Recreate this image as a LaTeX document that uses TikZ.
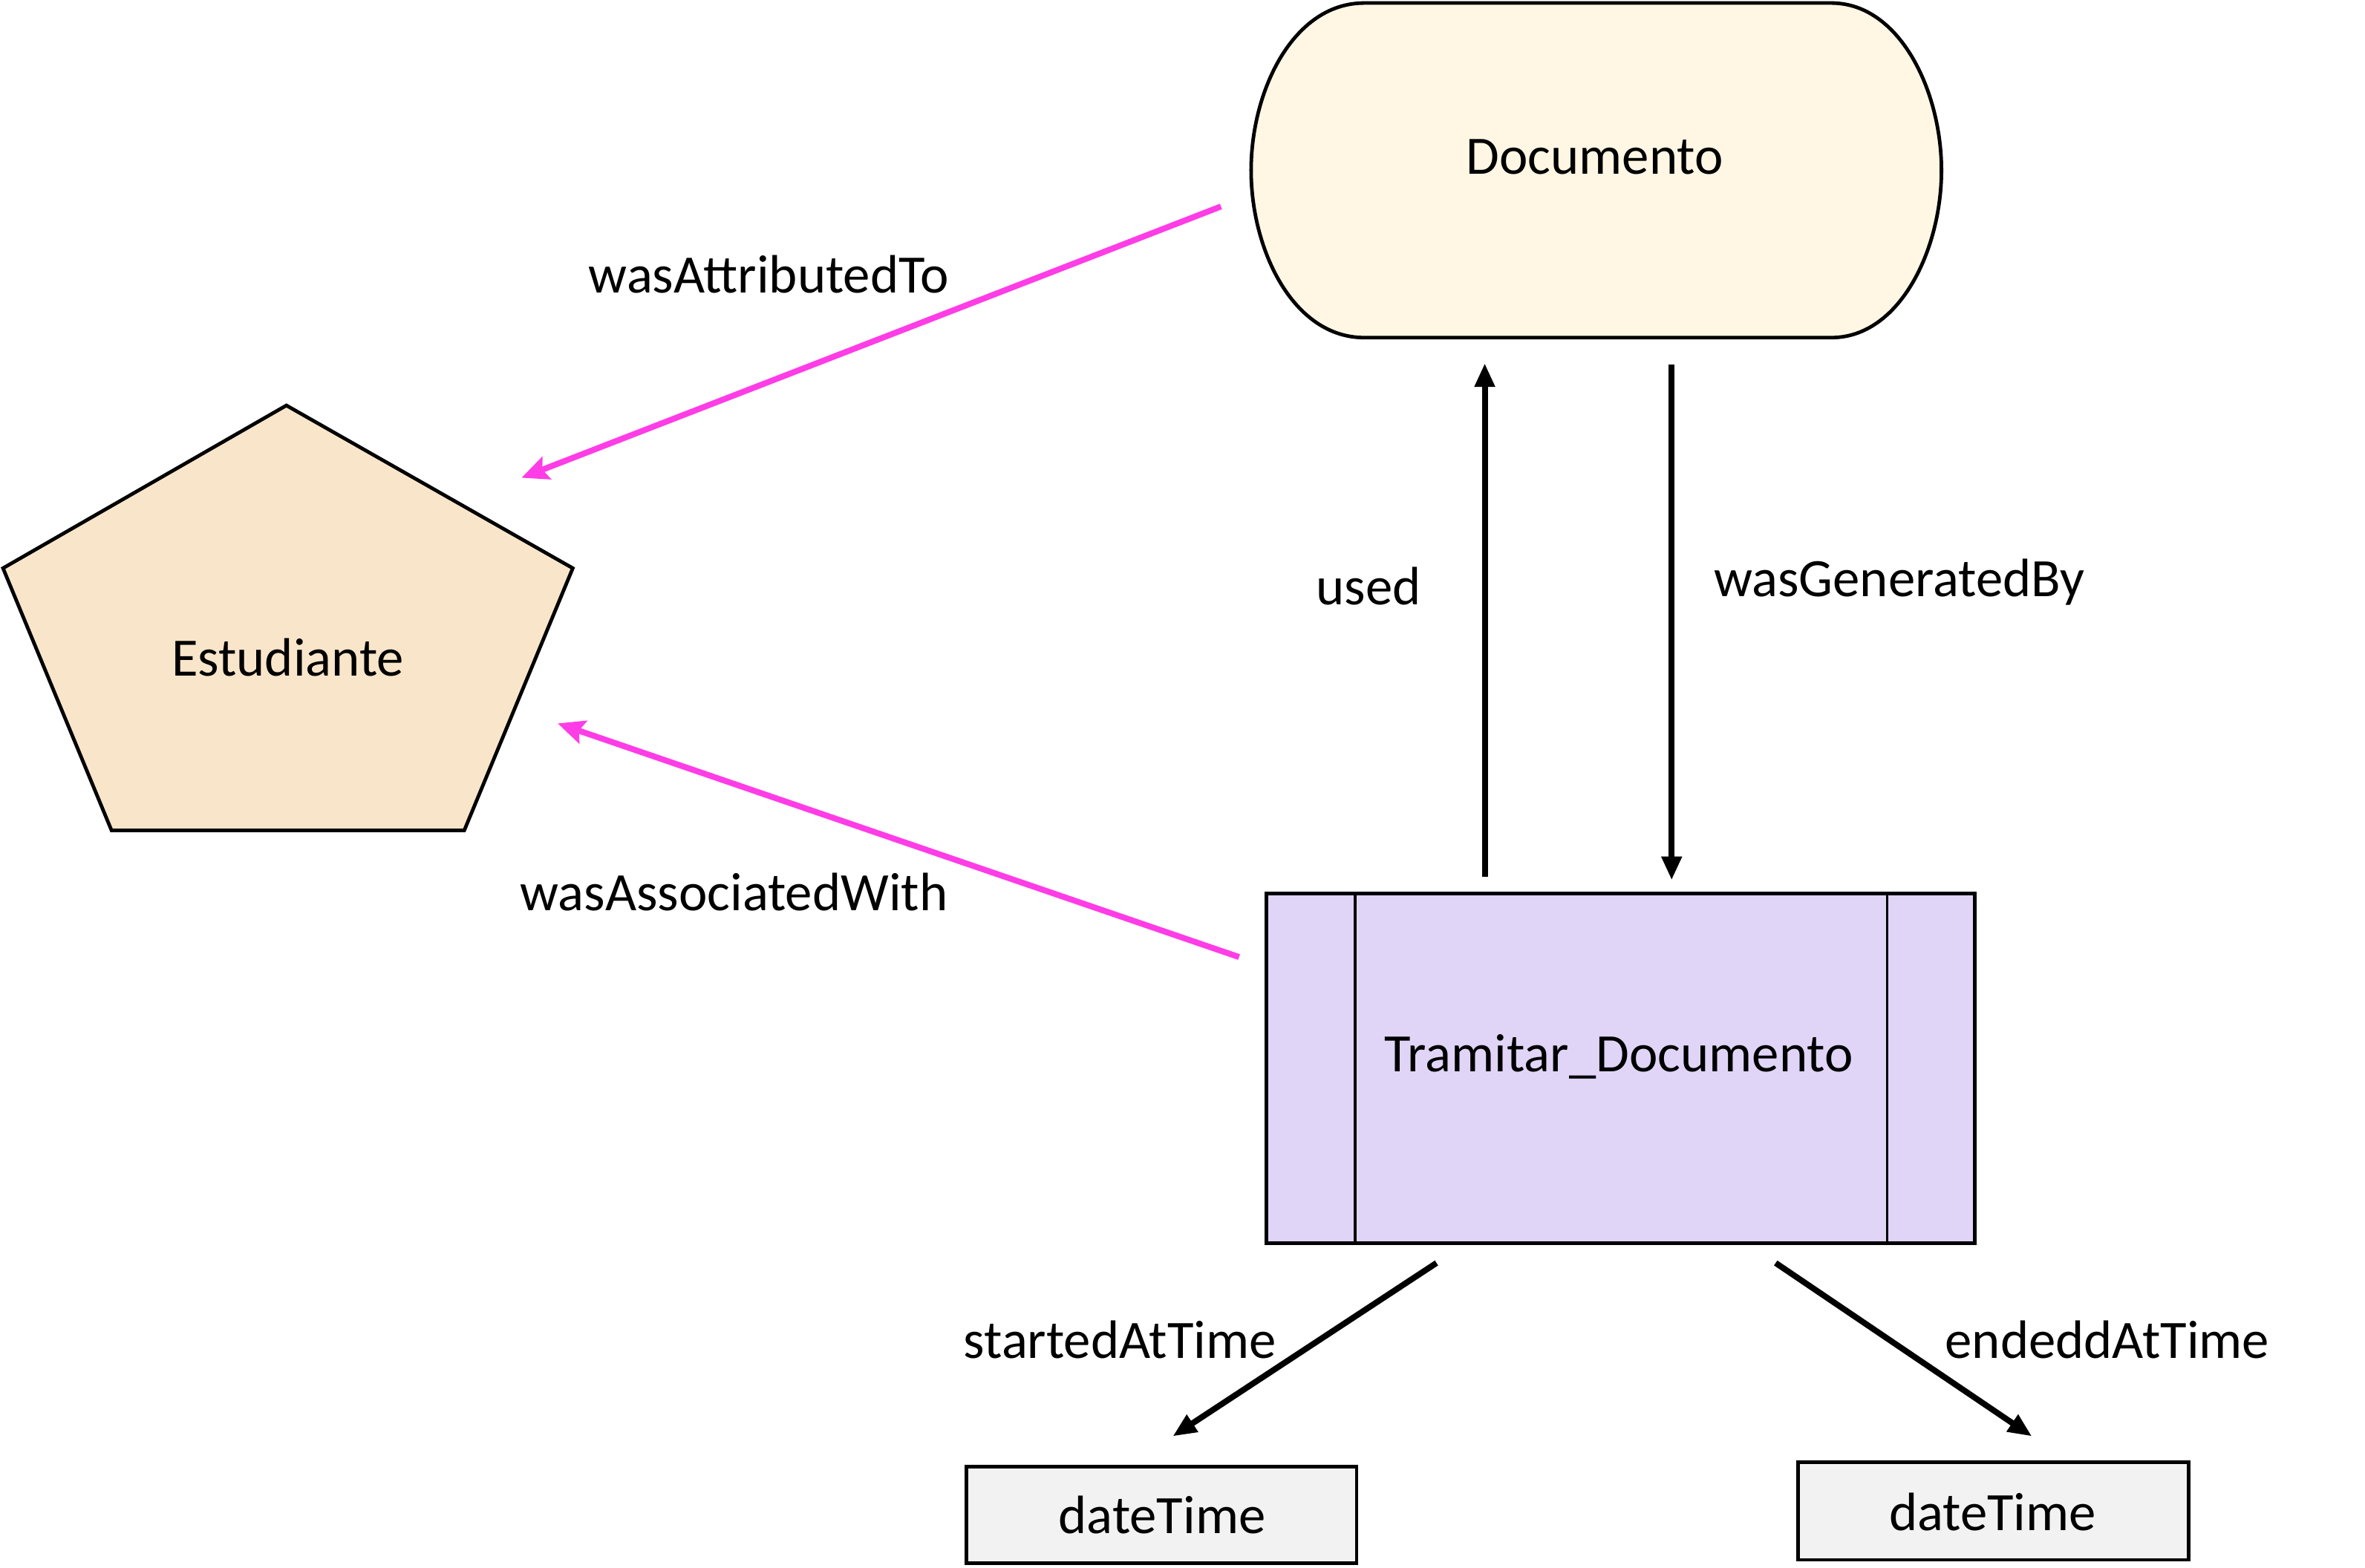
\documentclass[tikz,border=0pt]{standalone}
\usepackage{fontspec}
\setmainfont{Carlito}
\usetikzlibrary{arrows.meta}
\definecolor{docfill}{HTML}{FFF7E4}
\definecolor{estfill}{HTML}{F9E6CA}
\definecolor{tramfill}{HTML}{E0D5F7}
\definecolor{dtfill}{HTML}{F2F2F2}
\definecolor{pinkline}{HTML}{FF3DE6}
\tikzset{
  shapeline/.style={draw=black, line width=1.2pt},
  lbl/.style={font=\fontsize{18.2pt}{22pt}\selectfont, inner sep=0pt},
  blackarrow/.style={line width=2pt, -{Stealth[length=8pt, width=6.5pt, inset=0pt]}},
  pinkarrow/.style={draw=pinkline, line width=2pt, -{Stealth[length=9pt, width=8pt, inset=1.5pt]}},
}
\begin{document}
\begin{tikzpicture}[x=0.5075pt, y=-0.5075pt]
\useasboundingbox (0,0) rectangle (1569,1040);
% Documento
\path[shapeline, fill=docfill] (905,2) -- (1215,2)
  .. controls (1260,2) and (1288,60) .. (1288,113)
  .. controls (1288,166) and (1260,224) .. (1215,224)
  -- (905,224)
  .. controls (858,224) and (830,166) .. (830,113)
  .. controls (830,60) and (858,2) .. (905,2) -- cycle;
\node[lbl] (doc) at (1058,104) {Documento};
% Estudiante
\path[shapeline, fill=estfill] (190,269) -- (380,377) -- (308,551) -- (74,551) -- (2,377) -- cycle;
\node[lbl] (est) at (191,436) {Estudiante};
% Tramitar
\path[shapeline, fill=tramfill] (840,593) rectangle (1310,825);
\draw[line width=0.9pt] (899,593) -- (899,825) (1252,593) -- (1252,825);
\node[lbl] (tram) at (1074,701) {Tramitar\_Documento};
% dateTime boxes
\path[shapeline, fill=dtfill] (641,973) rectangle (900,1037);
\node[lbl] (dt1) at (771,1005) {dateTime};
\path[shapeline, fill=dtfill] (1193,970) rectangle (1452,1035);
\node[lbl] (dt2) at (1322,1003) {dateTime};
% connector endpoints
\coordinate (attrS) at (810,137);
\coordinate (attrE) at (346,317);
\coordinate (assocS) at (822,635);
\coordinate (assocE) at (370,480);
\coordinate (usedS) at (985,582);
\coordinate (usedE) at (985,241);
\coordinate (genS) at (1109,242);
\coordinate (genE) at (1109,584);
\coordinate (startS) at (953,838);
\coordinate (startE) at (778,953);
\coordinate (endS) at (1178,838);
\coordinate (endE) at (1348,953);
% connectors
\draw[pinkarrow] (attrS) -- (attrE);
\draw[pinkarrow] (assocS) -- (assocE);
\draw[blackarrow] (usedS) -- (usedE);
\draw[blackarrow] (genS) -- (genE);
\draw[blackarrow] (startS) -- (startE);
\draw[blackarrow] (endS) -- (endE);
% labels
\node[lbl] (l1) at (510,182) {wasAttributedTo};
\node[lbl] (l2) at (487,592) {wasAssociatedWith};
\node[lbl] (l3) at (908,389) {used};
\node[lbl] (l4) at (1260,386) {wasGeneratedBy};
\node[lbl] (l5) at (743,889) {startedAtTime};
\node[lbl] (l6) at (1398,889) {endeddAtTime};
\end{tikzpicture}
\end{document}
